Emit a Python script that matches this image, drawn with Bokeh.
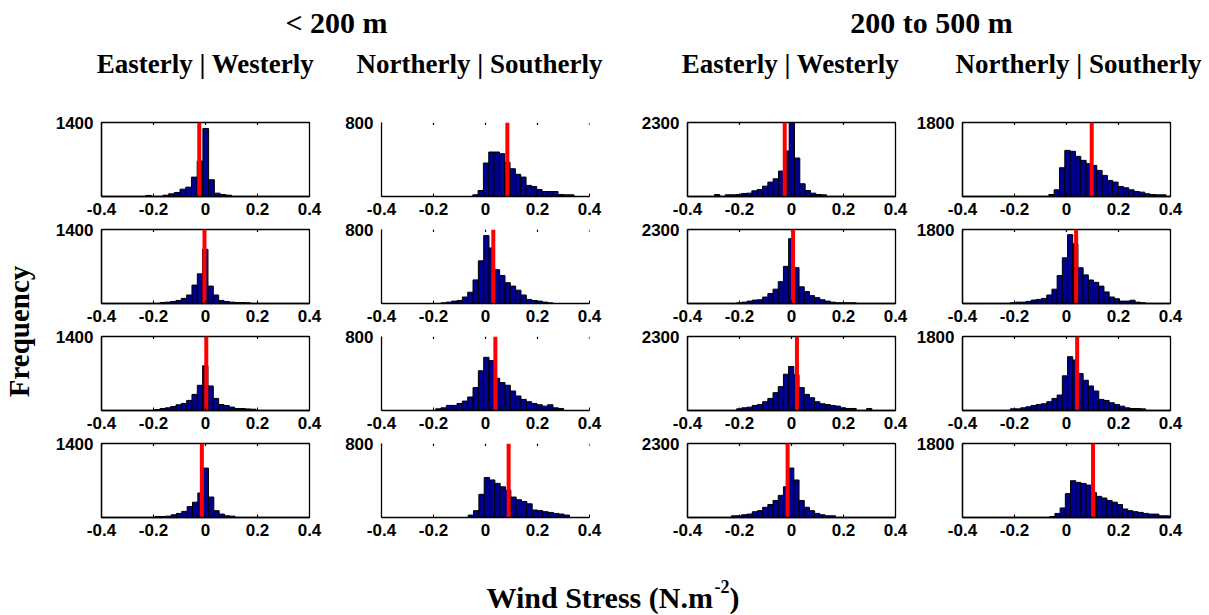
import math
from bokeh.plotting import figure
from bokeh.models import Range1d, FixedTicker, CustomJSTickFormatter, ColumnDataSource
from bokeh.layouts import row, column
from bokeh.embed import file_html
from bokeh.resources import INLINE
from bokeh.core.properties import value

# ---------------- data ----------------
group_titles = ["< 200 m", "200 to 500 m"]
component_titles = ["Easterly | Westerly", "Northerly | Southerly",
                    "Easterly | Westerly", "Northerly | Southerly"]
x_label_main = "Wind Stress (N.m"
x_label_sup = "-2"
x_label_close = ")"
y_label = "Frequency"
x_ticks = [-0.4, -0.2, 0.0, 0.2, 0.4]
y_max = [1400, 800, 2300, 1800]

# < 200 m, Easterly | Westerly (rows 1-4)
shelf_ew_start = [-0.230, -0.175, -0.1955, -0.1935]
shelf_ew_width = [0.022, 0.0205, 0.0205, 0.0205]
shelf_ew_counts = [
    [20, 0, 0, 25, 50, 76, 139, 177, 367, 671, 1286, 317, 63, 38, 25],
    [19, 26, 39, 58, 97, 161, 348, 561, 1026, 329, 161, 58, 39, 26, 19, 19, 13],
    [19, 38, 51, 76, 108, 134, 191, 305, 477, 846, 464, 229, 114, 95, 64, 38, 38, 30, 25],
    [19, 19, 26, 52, 77, 116, 206, 290, 464, 935, 387, 129, 65, 32, 26],
]
shelf_ew_mean = [-0.024, -0.004, 0.003, -0.014]

# < 200 m, Northerly | Southerly
shelf_ns_start = [-0.049, -0.171, -0.1915, -0.0665]
shelf_ns_width = [0.0205, 0.0205, 0.0205, 0.0205]
shelf_ns_counts = [
    [18, 65, 362, 481, 481, 463, 370, 300, 240, 210, 120, 109, 76, 54, 54, 54, 22, 18, 18],
    [7, 15, 26, 33, 70, 122, 255, 461, 734, 600, 365, 303, 225, 188, 144, 92, 44, 33, 26, 15, 7],
    [18, 29, 55, 55, 76, 102, 146, 248, 430, 575, 539, 349, 302, 273, 211, 157, 120, 95, 76,
     62, 47, 62, 29, 22],
    [26, 74, 251, 432, 406, 369, 332, 295, 221, 192, 173, 148, 81, 74, 63, 55, 44, 37, 26],
]
shelf_ns_mean = [0.084, 0.030, 0.038, 0.089]

# 200 to 500 m, Easterly | Westerly
slope_ew_start = [-0.296, -0.211, -0.211, -0.231]
slope_ew_width = [0.0205, 0.02, 0.02, 0.02]
slope_ew_counts = [
    [60, 0, 52, 52, 62, 94, 104, 177, 218, 322, 447, 550, 790, 1415, 2300, 1196, 395, 187, 104, 62, 52],
    [21, 42, 74, 106, 117, 201, 307, 445, 678, 1155, 2014, 1113, 519, 371, 244, 180, 117, 74, 42,
     21, 21, 21, 21],
    [52, 84, 104, 157, 188, 272, 376, 554, 742, 1129, 1369, 1108, 711, 502, 397, 272, 209, 188, 157,
     136, 84, 63, 63, 0, 0, 63],
    [53, 53, 85, 106, 180, 212, 318, 403, 530, 689, 954, 1537, 1166, 530, 318, 212, 127, 85, 53, 53],
]
slope_ew_mean = [-0.026, 0.006, 0.021, -0.015]

# 200 to 500 m, Northerly | Southerly
slope_ns_start = [-0.068, -0.216, -0.216, -0.0645]
slope_ns_width = [0.0205, 0.02, 0.02, 0.02]
slope_ns_counts = [
    [49, 163, 700, 1123, 1099, 977, 879, 798, 757, 635, 513, 391, 350, 244, 212, 163, 122, 106, 65,
     49, 41, 41],
    [17, 33, 33, 50, 83, 100, 124, 207, 348, 680, 1111, 1675, 1451, 870, 696, 572, 514, 423, 282,
     158, 116, 58, 58, 80, 33, 17],
    [41, 40, 65, 90, 123, 147, 164, 213, 294, 376, 843, 1309, 1227, 900, 736, 597, 474, 270, 245,
     188, 147, 106, 65, 49, 49, 40],
    [25, 99, 232, 580, 895, 854, 829, 788, 605, 514, 473, 415, 373, 315, 207, 166, 141, 124, 99, 83,
     83, 41, 41],
]
slope_ns_mean = [0.097, 0.037, 0.041, 0.102]

columns_data = [
    (shelf_ew_start, shelf_ew_width, shelf_ew_counts, shelf_ew_mean),
    (shelf_ns_start, shelf_ns_width, shelf_ns_counts, shelf_ns_mean),
    (slope_ew_start, slope_ew_width, slope_ew_counts, slope_ew_mean),
    (slope_ns_start, slope_ns_width, slope_ns_counts, slope_ns_mean),
]

# ---------------- layout / style ----------------
TOTAL_W, TOTAL_H = 1209, 615
HEADER_H = 115
ROW_H = 107
FOOTER_H = 72
LEFT_W = 51
FRAME_H = ROW_H - 7 - 26
col_fig_width = [280, 306, 275, 297]
col_border_right = [22, 48, 17, 39]
col_boxed = [True, False, True, True]
B_LEFT, B_TOP, B_BOTTOM = 50, 7, 26
TOP_TICK_PX = 2.5

BAR_COLOR = "#00008F"
MEAN_COLOR = "#FF0000"
TICK_FONT = "Liberation Sans"
TITLE_FONT = "Liberation Serif"

x_formatter_code = "return Math.abs(tick) < 1e-9 ? '0' : tick.toFixed(1);"


def make_panel(ci, ri):
    start, width, counts, means = columns_data[ci]
    s, w, c, m = start[ri], width[ri], counts[ri], means[ri]
    ymax = y_max[ci]
    n = len(c)
    src = ColumnDataSource(dict(
        left=[s + i * w for i in range(n)],
        right=[s + (i + 1) * w for i in range(n)],
        top=c,
        bottom=[0] * n,
    ))
    p = figure(width=col_fig_width[ci], height=ROW_H,
               x_range=Range1d(-0.4, 0.4), y_range=Range1d(0, ymax),
               output_backend="svg", toolbar_location=None, title=None,
               min_border_left=B_LEFT, min_border_right=col_border_right[ci],
               min_border_top=B_TOP, min_border_bottom=B_BOTTOM)
    p.xgrid.visible = False
    p.ygrid.visible = False
    p.background_fill_color = "white"
    p.border_fill_color = "white"
    if col_boxed[ci]:
        p.outline_line_color = "black"
        p.outline_line_width = 1.3
        p.outline_line_alpha = 1.0
    else:
        p.outline_line_color = None

    p.quad(left="left", right="right", top="top", bottom="bottom", source=src,
           fill_color=BAR_COLOR, line_color="black", line_width=1)

    # inward tick marks along the top edge (box ticks)
    tsrc = ColumnDataSource(dict(x=x_ticks, y0=[ymax] * len(x_ticks),
                                 y1=[ymax * (1 - TOP_TICK_PX / FRAME_H)] * len(x_ticks)))
    p.segment(x0="x", y0="y0", x1="x", y1="y1", source=tsrc,
              line_color="black", line_width=1.2)

    msrc = ColumnDataSource(dict(x=[m], y0=[0], y1=[ymax]))
    p.segment(x0="x", y0="y0", x1="x", y1="y1", source=msrc,
              line_color=MEAN_COLOR, line_width=4)

    xa = p.xaxis[0]
    xa.ticker = FixedTicker(ticks=x_ticks)
    xa.formatter = CustomJSTickFormatter(code=x_formatter_code)
    xa.major_tick_in = 3
    xa.major_tick_out = 0
    xa.minor_tick_line_color = None
    xa.axis_line_color = "black"
    xa.axis_line_width = 1.3
    xa.major_tick_line_color = "black"
    xa.major_label_standoff = 6
    xa.major_label_text_font = TICK_FONT
    xa.major_label_text_font_style = "bold"
    xa.major_label_text_font_size = "17px"
    xa.major_label_text_color = "black"

    ya = p.yaxis[0]
    ya.ticker = FixedTicker(ticks=[ymax])
    ya.major_tick_in = 0
    ya.major_tick_out = 0
    ya.minor_tick_line_color = None
    ya.axis_line_color = "black"
    ya.axis_line_width = 1.3
    ya.major_label_standoff = 8
    ya.major_label_text_font = TICK_FONT
    ya.major_label_text_font_style = "bold"
    ya.major_label_text_font_size = "17px"
    ya.major_label_text_color = "black"
    return p


def blank(width, height):
    f = figure(width=width, height=height, x_range=Range1d(0, width),
               y_range=Range1d(height, 0), output_backend="svg", toolbar_location=None,
               title=None, min_border=0)
    f.axis.visible = False
    f.grid.visible = False
    f.outline_line_color = None
    return f


# header
hdr = blank(TOTAL_W, HEADER_H)
hdr.text(x=[336, 931], y=[22, 22], text=group_titles,
         text_font=value(TITLE_FONT), text_font_style="bold", text_font_size="30px",
         text_align="center", text_baseline="middle", text_color="black")
hdr.text(x=[205, 479, 790, 1078], y=[63, 63, 63, 63], text=component_titles,
         text_font=value(TITLE_FONT), text_font_style="bold", text_font_size="27px",
         text_align="center", text_baseline="middle", text_color="black")

# left label
GRID_H = 4 * ROW_H
lft = blank(LEFT_W, GRID_H)
lft.text(x=[18], y=[216], text=[y_label], angle=math.pi / 2,
         text_font=value(TITLE_FONT), text_font_style="bold", text_font_size="29px",
         text_align="center", text_baseline="middle", text_color="black")

# footer
ftr = blank(TOTAL_W, FOOTER_H)
ftr.text(x=[486], y=[54], text=[x_label_main],
         text_font=value(TITLE_FONT), text_font_style="bold", text_font_size="30px",
         text_align="left", text_baseline="middle", text_color="black")
ftr.text(x=[714], y=[43], text=[x_label_sup],
         text_font=value(TITLE_FONT), text_font_style="bold", text_font_size="18px",
         text_align="left", text_baseline="middle", text_color="black")
ftr.text(x=[729], y=[54], text=[x_label_close],
         text_font=value(TITLE_FONT), text_font_style="bold", text_font_size="30px",
         text_align="left", text_baseline="middle", text_color="black")

rows = []
for ri in range(4):
    rows.append(row([make_panel(ci, ri) for ci in range(4)], spacing=0))
grid = column(rows, spacing=0)
layout = column([hdr, row([lft, grid], spacing=0), ftr], spacing=0)

open("out.html", "w").write(file_html(layout, INLINE))
